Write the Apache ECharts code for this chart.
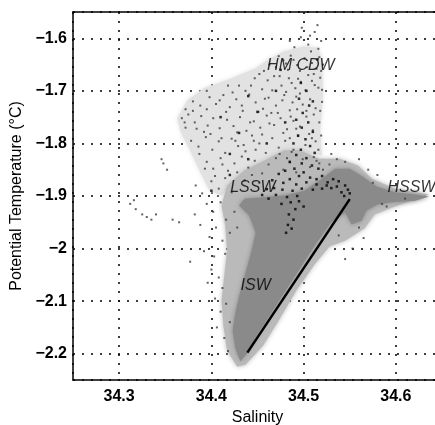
<!DOCTYPE html>
<html><head><meta charset="utf-8">
<script src="https://cdn.jsdelivr.net/npm/echarts@6/dist/echarts.min.js"></script>
<style>html,body{margin:0;padding:0;background:#fff;overflow:hidden}#c{width:435px;height:425px}</style>
</head><body><div id="c"></div>
<script>
// ---- axis ticks ----
const xTickLabels = [34.3, 34.4, 34.5, 34.6];
const yTickLabels = [-2.2, -2.1, -2, -1.9, -1.8, -1.7, -1.6];

// ---- water-mass labels ----
const annoText = ['HM CDW', 'LSSW', 'HSSW', 'ISW'];
const annoS = [34.497, 34.445, 34.617, 34.448];
const annoT = [-1.651, -1.884, -1.884, -2.070];

// ---- mixing line ----
const mixS = [34.439, 34.550];
const mixT = [-2.198, -1.906];

// ---- dense data envelopes (outlines) ----
const cloudOutline = [[34.363,-1.752],[34.374,-1.718],[34.392,-1.695],[34.422,-1.676],[34.448,-1.657],[34.462,-1.640],[34.478,-1.625],[34.500,-1.615],[34.516,-1.618],[34.520,-1.642],[34.521,-1.709],[34.518,-1.775],[34.520,-1.823],[34.496,-1.817],[34.458,-1.836],[34.430,-1.861],[34.411,-1.899],[34.398,-1.890],[34.387,-1.851],[34.376,-1.810],[34.367,-1.779]];
const fringeOutline = [[34.428,-2.225],[34.417,-2.194],[34.413,-2.147],[34.411,-2.099],[34.414,-2.051],[34.417,-2.004],[34.415,-1.956],[34.411,-1.918],[34.417,-1.880],[34.436,-1.851],[34.458,-1.832],[34.479,-1.813],[34.496,-1.813],[34.517,-1.829],[34.539,-1.829],[34.559,-1.842],[34.574,-1.867],[34.599,-1.886],[34.636,-1.897],[34.599,-1.920],[34.577,-1.935],[34.566,-1.962],[34.545,-1.985],[34.528,-1.996],[34.512,-2.030],[34.492,-2.080],[34.473,-2.137],[34.456,-2.185],[34.437,-2.221]];
const coreOutline = [[34.4315,-2.215],[34.426,-2.190],[34.423,-2.156],[34.426,-2.122],[34.430,-2.091],[34.437,-2.046],[34.443,-2.008],[34.448,-1.970],[34.441,-1.937],[34.430,-1.918],[34.436,-1.905],[34.454,-1.903],[34.479,-1.899],[34.501,-1.890],[34.520,-1.867],[34.534,-1.848],[34.550,-1.848],[34.564,-1.863],[34.579,-1.882],[34.599,-1.893],[34.621,-1.897],[34.636,-1.901],[34.621,-1.909],[34.596,-1.912],[34.580,-1.916],[34.568,-1.928],[34.563,-1.947],[34.552,-1.954],[34.545,-1.931],[34.530,-1.950],[34.512,-1.994],[34.496,-2.038],[34.479,-2.084],[34.463,-2.128],[34.449,-2.166],[34.439,-2.198]];

// ---- scattered samples ----
const cloudDots = [
[34.497,-1.598],[34.505,-1.612],[34.512,-1.588],[34.519,-1.605],[34.490,-1.617],[34.508,-1.625],[34.516,-1.620],
[34.478,-1.642],[34.486,-1.633],[34.493,-1.651],[34.501,-1.638],[34.509,-1.647],[34.517,-1.636],[34.470,-1.655],[34.483,-1.660],[34.514,-1.658],[34.521,-1.650],
[34.452,-1.668],[34.461,-1.680],[34.468,-1.672],[34.476,-1.690],[34.484,-1.676],[34.491,-1.695],[34.497,-1.683],[34.505,-1.670],[34.512,-1.689],[34.518,-1.675],[34.443,-1.690],[34.455,-1.697],[34.466,-1.699],[34.502,-1.699],[34.520,-1.698],
[34.398,-1.712],[34.405,-1.725],[34.413,-1.708],[34.420,-1.731],[34.427,-1.716],[34.434,-1.738],[34.441,-1.707],[34.448,-1.722],[34.456,-1.734],[34.462,-1.713],[34.470,-1.728],[34.477,-1.718],[34.485,-1.737],[34.492,-1.711],[34.499,-1.726],[34.507,-1.716],[34.513,-1.733],[34.520,-1.721],[34.388,-1.728],[34.416,-1.740],[34.451,-1.740],[34.481,-1.702],
[34.368,-1.752],[34.375,-1.745],[34.382,-1.760],[34.389,-1.748],[34.396,-1.766],[34.402,-1.752],[34.409,-1.771],[34.417,-1.755],[34.424,-1.767],[34.431,-1.750],[34.438,-1.776],[34.446,-1.758],[34.453,-1.770],[34.460,-1.747],[34.468,-1.765],[34.475,-1.752],[34.482,-1.773],[34.489,-1.757],[34.496,-1.768],[34.503,-1.749],[34.510,-1.775],[34.517,-1.760],[34.372,-1.770],[34.392,-1.778],[34.428,-1.779],
[34.378,-1.795],[34.386,-1.806],[34.394,-1.788],[34.401,-1.812],[34.408,-1.796],[34.415,-1.818],[34.422,-1.791],[34.429,-1.805],[34.437,-1.815],[34.444,-1.785],[34.452,-1.800],[34.459,-1.818],[34.466,-1.790],[34.473,-1.808],[34.480,-1.795],[34.487,-1.816],[34.494,-1.786],[34.502,-1.803],[34.509,-1.790],[34.516,-1.812],
[34.395,-1.835],[34.402,-1.848],[34.410,-1.828],[34.418,-1.852],[34.425,-1.838],[34.433,-1.825],[34.440,-1.846],[34.447,-1.833],[34.455,-1.857],[34.462,-1.840],[34.470,-1.828],[34.478,-1.850],[34.485,-1.836],[34.492,-1.855],[34.499,-1.830],[34.507,-1.845],[34.514,-1.833],[34.521,-1.850],[34.528,-1.840],[34.536,-1.830],
[34.400,-1.872],[34.408,-1.886],[34.415,-1.866],[34.422,-1.893],[34.390,-1.895],[34.383,-1.880],
[34.395,-1.915],[34.402,-1.930],[34.410,-1.912],[34.416,-1.945],[34.405,-1.960],[34.398,-1.978],[34.412,-1.985],[34.420,-1.970],[34.392,-2.005],[34.403,-2.015],[34.415,-2.010],[34.400,-2.040],[34.408,-2.055],[34.396,-2.065],[34.412,-2.075],[34.404,-2.095],[34.410,-2.120],[34.406,-2.150],[34.414,-2.170],[34.418,-2.195],[34.420,-2.140],[34.416,-2.105],[34.425,-1.930],[34.428,-1.960],[34.382,-1.935],[34.388,-1.955],[34.377,-2.025],
[34.312,-1.915],[34.318,-1.925],[34.325,-1.935],[34.330,-1.940],[34.316,-1.908],[34.340,-1.935],[34.348,-1.838],[34.352,-1.850],[34.346,-1.830],[34.335,-1.945],[34.358,-1.945],[34.365,-1.950],
[34.560,-1.960],[34.565,-1.980],[34.553,-2.000],[34.545,-2.020],[34.538,-1.975],[34.570,-1.850],[34.580,-1.860],[34.575,-1.875],[34.585,-1.915],[34.590,-1.920],[34.610,-1.905],[34.530,-1.820],[34.545,-1.835],[34.560,-1.830],
[34.473,-1.634],[34.481,-1.648],[34.489,-1.641],[34.496,-1.662],[34.504,-1.655],[34.511,-1.668],[34.519,-1.662],[34.474,-1.672],[34.487,-1.685],[34.494,-1.677],[34.509,-1.681],[34.516,-1.694],[34.479,-1.708],[34.488,-1.722],[34.496,-1.705],[34.503,-1.738],[34.511,-1.745],[34.518,-1.738],[34.472,-1.742],[34.486,-1.749],[34.493,-1.735],[34.478,-1.780],[34.485,-1.790],[34.492,-1.772],[34.506,-1.782],[34.513,-1.796],[34.519,-1.785],[34.474,-1.820],[34.482,-1.828],[34.489,-1.812],[34.511,-1.826],[34.517,-1.838],
[34.430,-1.690],[34.437,-1.700],[34.423,-1.703],[34.409,-1.718],[34.395,-1.735],[34.380,-1.738],[34.371,-1.760],[34.384,-1.772],[34.399,-1.782],[34.411,-1.790],[34.426,-1.795],[34.435,-1.803],[34.448,-1.812],[34.455,-1.783],[34.463,-1.762],[34.442,-1.760],[34.433,-1.728],[34.458,-1.715],[34.465,-1.742],[34.446,-1.795],[34.387,-1.820],[34.393,-1.848],[34.404,-1.862],[34.412,-1.840],[34.428,-1.855],[34.436,-1.870],[34.444,-1.860],[34.452,-1.875],
[34.485,-1.605],[34.498,-1.580],[34.507,-1.595],[34.515,-1.575],[34.463,-1.650],[34.457,-1.662],[34.447,-1.676],
[34.380,-1.720],[34.372,-1.735],[34.395,-1.700],[34.418,-1.690]
];
const darkDots = [
[34.497,-1.685],[34.503,-1.700],[34.495,-1.715],[34.506,-1.728],[34.499,-1.742],[34.492,-1.755],[34.505,-1.760],[34.498,-1.770],[34.510,-1.778],[34.494,-1.785],[34.502,-1.792],[34.489,-1.800],[34.507,-1.805],[34.497,-1.812],[34.512,-1.818],[34.492,-1.822],[34.503,-1.828],[34.485,-1.835],[34.498,-1.838],[34.509,-1.842],[34.516,-1.848],[34.490,-1.848],[34.480,-1.852],[34.500,-1.855],[34.473,-1.858],[34.495,-1.862],[34.507,-1.865],[34.520,-1.862],[34.485,-1.868],[34.466,-1.870],[34.478,-1.875],[34.492,-1.878],[34.503,-1.874],[34.514,-1.878],[34.526,-1.874],[34.532,-1.868],[34.538,-1.872],[34.545,-1.880],[34.548,-1.888],[34.541,-1.893],[34.530,-1.885],[34.520,-1.886],[34.510,-1.888],[34.498,-1.886],[34.488,-1.890],[34.477,-1.888],[34.468,-1.885],[34.460,-1.887],[34.455,-1.898],[34.462,-1.905],[34.470,-1.898],[34.482,-1.902],[34.493,-1.900],[34.486,-1.912],[34.491,-1.925],[34.484,-1.935],[34.489,-1.945],[34.483,-1.955],[34.487,-1.962],[34.481,-1.970],[34.476,-1.915],[34.495,-1.910],[34.500,-1.920],[34.514,-1.868],[34.525,-1.880],[34.536,-1.882],[34.550,-1.895],[34.544,-1.900],
[34.470,-1.700],[34.450,-1.740],[34.430,-1.780],[34.480,-1.760],[34.460,-1.800],[34.440,-1.830],[34.420,-1.860],[34.400,-1.890],[34.515,-1.640],[34.510,-1.720],[34.475,-1.660],[34.440,-1.710],[34.410,-1.750],[34.420,-1.820]
];

function poly(outline, fill, z) {
  return {
    type: 'custom', z: z, silent: true, clip: true,
    data: outline,
    renderItem: function (params, api) {
      if (params.dataIndex !== 0) return;
      return { type: 'polygon', shape: { points: outline.map(p => api.coord(p)) },
               style: { fill: fill, shadowBlur: 5, shadowColor: fill } };
    }
  };
}
function tickFmt(list) {
  return function (v) {
    const t = list.find(x => Math.abs(x - v) < 1e-6);
    return t === undefined ? '' : String(t).replace('-', '\u2212');
  };
}
const font = 'Liberation Sans, Arial, Helvetica, sans-serif';
const chart = echarts.init(document.getElementById('c'), null, { renderer: 'canvas' });
chart.setOption({
  animation: false,
  backgroundColor: '#fff',
  grid: { left: 73, top: 12, bottom: 45, right: -7, containLabel: false, outerBoundsMode: 'none', show: false },
  xAxis: [{
    type: 'value', min: 34.25, max: 34.65,
    name: 'Salinity', nameLocation: 'middle', nameGap: 30,
    nameTextStyle: { color: '#000', fontSize: 16, fontFamily: font },
    axisLine: { show: true, onZero: false, lineStyle: { color: '#000', width: 1.5 } },
    axisTick: { show: false },
    axisLabel: { color: '#000', fontSize: 16, fontWeight: 'bold', fontFamily: font, margin: 9, formatter: tickFmt(xTickLabels) },
    splitLine: { show: true, lineStyle: { color: '#000', width: 1.5, type: [2, 7] } }
  }, {
    type: 'value', min: 34.25, max: 34.65, position: 'top',
    axisLine: { show: true, onZero: false, lineStyle: { color: '#000', width: 1.5 } },
    axisTick: { show: false }, axisLabel: { show: false }, splitLine: { show: false }
  }],
  yAxis: {
    type: 'value', min: -2.25, max: -1.55,
    name: 'Potential Temperature (\u00B0C)', nameLocation: 'middle', nameGap: 45,
    nameTextStyle: { color: '#000', fontSize: 16, fontFamily: font },
    axisLine: { show: true, onZero: false, lineStyle: { color: '#000', width: 1.5 } },
    axisTick: { show: false },
    axisLabel: { color: '#000', fontSize: 16, fontWeight: 'bold', fontFamily: font, margin: 6, formatter: tickFmt(yTickLabels) },
    splitLine: { show: true, lineStyle: { color: '#000', width: 1.5, type: [2, 7] } }
  },
  series: [
    poly(cloudOutline, '#e2e2e2', 1),
    poly(fringeOutline, '#bababa', 2),
    poly(coreOutline, '#8a8a8a', 3),
    { type: 'scatter', z: 4, silent: true, symbol: 'rect', symbolSize: 2, itemStyle: { color: '#3c3c3c' }, data: cloudDots },
    { type: 'scatter', z: 5, silent: true, symbol: 'rect', symbolSize: 2.5, itemStyle: { color: '#000' }, data: darkDots },
    { type: 'line', z: 6, silent: true, symbol: 'none', lineStyle: { color: '#000', width: 2.5 }, data: mixS.map((s, i) => [s, mixT[i]]) },
    { type: 'scatter', z: 7, silent: true, symbolSize: 0,
      label: { show: true, position: 'inside', color: '#000', fontSize: 16, fontStyle: 'italic', fontFamily: font, formatter: p => p.name },
      data: annoText.map((t, i) => ({ name: t, value: [annoS[i], annoT[i]] })) }
  ]
});
</script></body></html>
